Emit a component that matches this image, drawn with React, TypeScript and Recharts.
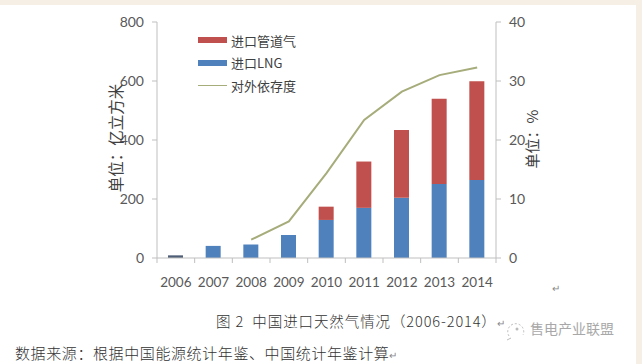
import React from 'react';
import {
  ComposedChart,
  Bar,
  Line,
  XAxis,
  YAxis,
  Cell,
} from 'recharts';

const years = ['2006', '2007', '2008', '2009', '2010', '2011', '2012', '2013', '2014'];
// 亿立方米
const lngImports = [9, 41, 46, 78, 129, 170, 204, 251, 264];
const pipelineImports = [0, 0, 0, 0, 45, 157, 230, 289, 335];
// %
const dependence = [null, null, 3.1, 6.2, 14.4, 23.4, 28.2, 31.0, 32.3];

const leftTicks = [0, 200, 400, 600, 800];
const rightTicks = [0, 10, 20, 30, 40];

const data = years.map((year, i) => ({
  year,
  lng: lngImports[i],
  pipe: pipelineImports[i],
  dep: dependence[i],
}));

const RED = '#C0504D';
const BLUE = '#4F81BD';
const LINE = '#A7AC7B';
const AXIS = '#BFBFBF';
const LABEL = '#595959';
const CJK = '"Noto Sans CJK SC", "Noto Sans", sans-serif';
const NUM = 'Lato, "Noto Sans", sans-serif';

const W = 642;
const H = 364;
const M = { top: 22, right: 96, bottom: 76, left: 107 };
const Y_W = 50;
const PLOT_W = W - M.left - M.right - 2 * Y_W;
const BAND = PLOT_W / years.length;

function YearTick(props: any) {
  const { x, y, payload, index } = props;
  const left = x - BAND / 2;
  return (
    <g>
      <line x1={left} y1={y - 8} x2={left} y2={y - 3} stroke={AXIS} />
      {index === years.length - 1 && (
        <line x1={left + BAND} y1={y - 8} x2={left + BAND} y2={y - 3} stroke={AXIS} />
      )}
      <text x={x} y={y + 21} textAnchor="middle" fill={LABEL} fontSize={13.5} fontFamily={NUM}>
        {payload.value}
      </text>
    </g>
  );
}

function ChartLegend() {
  const rows = [
    { label: '进口管道气', color: RED, kind: 'bar' },
    { label: '进口LNG', color: BLUE, kind: 'bar' },
    { label: '对外依存度', color: LINE, kind: 'line' },
  ];
  return (
    <div
      style={{
        position: 'absolute',
        left: 198,
        top: 29,
        fontFamily: CJK,
        fontSize: 13,
        color: '#404040',
      }}
    >
      {rows.map((r) => (
        <div key={r.label} style={{ display: 'flex', alignItems: 'center', height: 22.5 }}>
          <span
            style={{
              display: 'inline-block',
              width: 29,
              height: r.kind === 'bar' ? 6 : 1.5,
              background: r.color,
              marginRight: 4,
            }}
          />
          {r.label}
        </div>
      ))}
    </div>
  );
}

export default function App() {
  return (
    <div
      style={{
        position: 'absolute',
        left: 0,
        top: 0,
        width: W,
        height: H,
        background: '#FFFFFF',
        overflow: 'hidden',
      }}
    >
      <div style={{ position: 'absolute', left: 0, top: 0, width: W, height: 5, background: '#F6EFE6' }} />
      <div style={{ position: 'absolute', right: 0, top: 0, width: 6, height: H, background: '#F6EFE6' }} />
      <ComposedChart width={W} height={H} data={data} margin={M} barSize={15}>
        <XAxis
          dataKey="year"
          axisLine={{ stroke: AXIS }}
          tickLine={false}
          tick={<YearTick />}
          height={30}
          interval={0}
        />
        <YAxis
          yAxisId="left"
          domain={[0, 800]}
          ticks={leftTicks}
          width={Y_W}
          axisLine={{ stroke: AXIS }}
          tickLine={{ stroke: AXIS }}
          tickSize={5}
          tickMargin={8}
          tick={{ fill: LABEL, fontSize: 14, fontFamily: NUM }}
        />
        <YAxis
          yAxisId="right"
          orientation="right"
          domain={[0, 40]}
          ticks={rightTicks}
          width={Y_W}
          axisLine={{ stroke: AXIS }}
          tickLine={{ stroke: AXIS }}
          tickSize={5}
          tickMargin={8}
          tick={{ fill: LABEL, fontSize: 14, fontFamily: NUM, textAnchor: 'start' }}
        />
        <Bar yAxisId="left" dataKey="lng" stackId="a" fill={BLUE} isAnimationActive={false}>
          {data.map((d, i) => (
            <Cell key={d.year} fill={i === 0 ? '#4E5E76' : BLUE} />
          ))}
        </Bar>
        <Bar yAxisId="left" dataKey="pipe" stackId="a" fill={RED} isAnimationActive={false} />
        <Line
          yAxisId="right"
          dataKey="dep"
          type="linear"
          stroke={LINE}
          strokeWidth={2}
          dot={false}
          isAnimationActive={false}
        />
      </ComposedChart>
      <ChartLegend />

      <div
        style={{
          position: 'absolute',
          left: 115,
          top: 138,
          transform: 'translate(-50%, -50%) rotate(-90deg)',
          fontFamily: CJK,
          fontSize: 15.5,
          color: '#404040',
          whiteSpace: 'nowrap',
        }}
      >
        单位：亿立方米
      </div>
      <div
        style={{
          position: 'absolute',
          left: 531,
          top: 139,
          transform: 'translate(-50%, -50%) rotate(-90deg)',
          fontFamily: CJK,
          fontSize: 15,
          color: '#404040',
          whiteSpace: 'nowrap',
        }}
      >
        单位：%
      </div>
      <div
        style={{
          position: 'absolute',
          left: 552,
          top: 280,
          fontSize: 10,
          color: '#888',
          fontFamily: CJK,
        }}
      >
        ↵
      </div>
      <div
        style={{
          position: 'absolute',
          left: 216,
          top: 310,
          fontFamily: CJK,
          fontSize: 14.5,
          letterSpacing: 0.9,
          color: '#333',
          whiteSpace: 'nowrap',
          fontWeight: 300,
        }}
      >
        图 2&nbsp;&nbsp;中国进口天然气情况（2006-2014）<span style={{ fontSize: 10, color: '#888' }}>↵</span>
      </div>
      <div
        style={{
          position: 'absolute',
          left: 15,
          top: 342,
          fontFamily: CJK,
          fontSize: 15,
          letterSpacing: 0.6,
          color: '#333',
          whiteSpace: 'nowrap',
          fontWeight: 300,
        }}
      >
        数据来源：根据中国能源统计年鉴、中国统计年鉴计算<span style={{ fontSize: 10, color: '#888' }}>↵</span>
      </div>
      <svg style={{ position: 'absolute', left: 505, top: 320 }} width={24} height={22}>
        <path d="M4 16 A8 8 0 1 1 18 15" fill="none" stroke="#BBB" strokeWidth={1} strokeDasharray="2 2" />
        <circle cx={12} cy={9} r={1.5} fill="#BBB" />
        <path d="M6 18 L2 20" stroke="#BBB" />
      </svg>
      <div
        style={{
          position: 'absolute',
          left: 530,
          top: 318,
          fontFamily: CJK,
          fontSize: 14,
          color: '#A8A8A8',
          whiteSpace: 'nowrap',
        }}
      >
        售电产业联盟
      </div>
    </div>
  );
}
